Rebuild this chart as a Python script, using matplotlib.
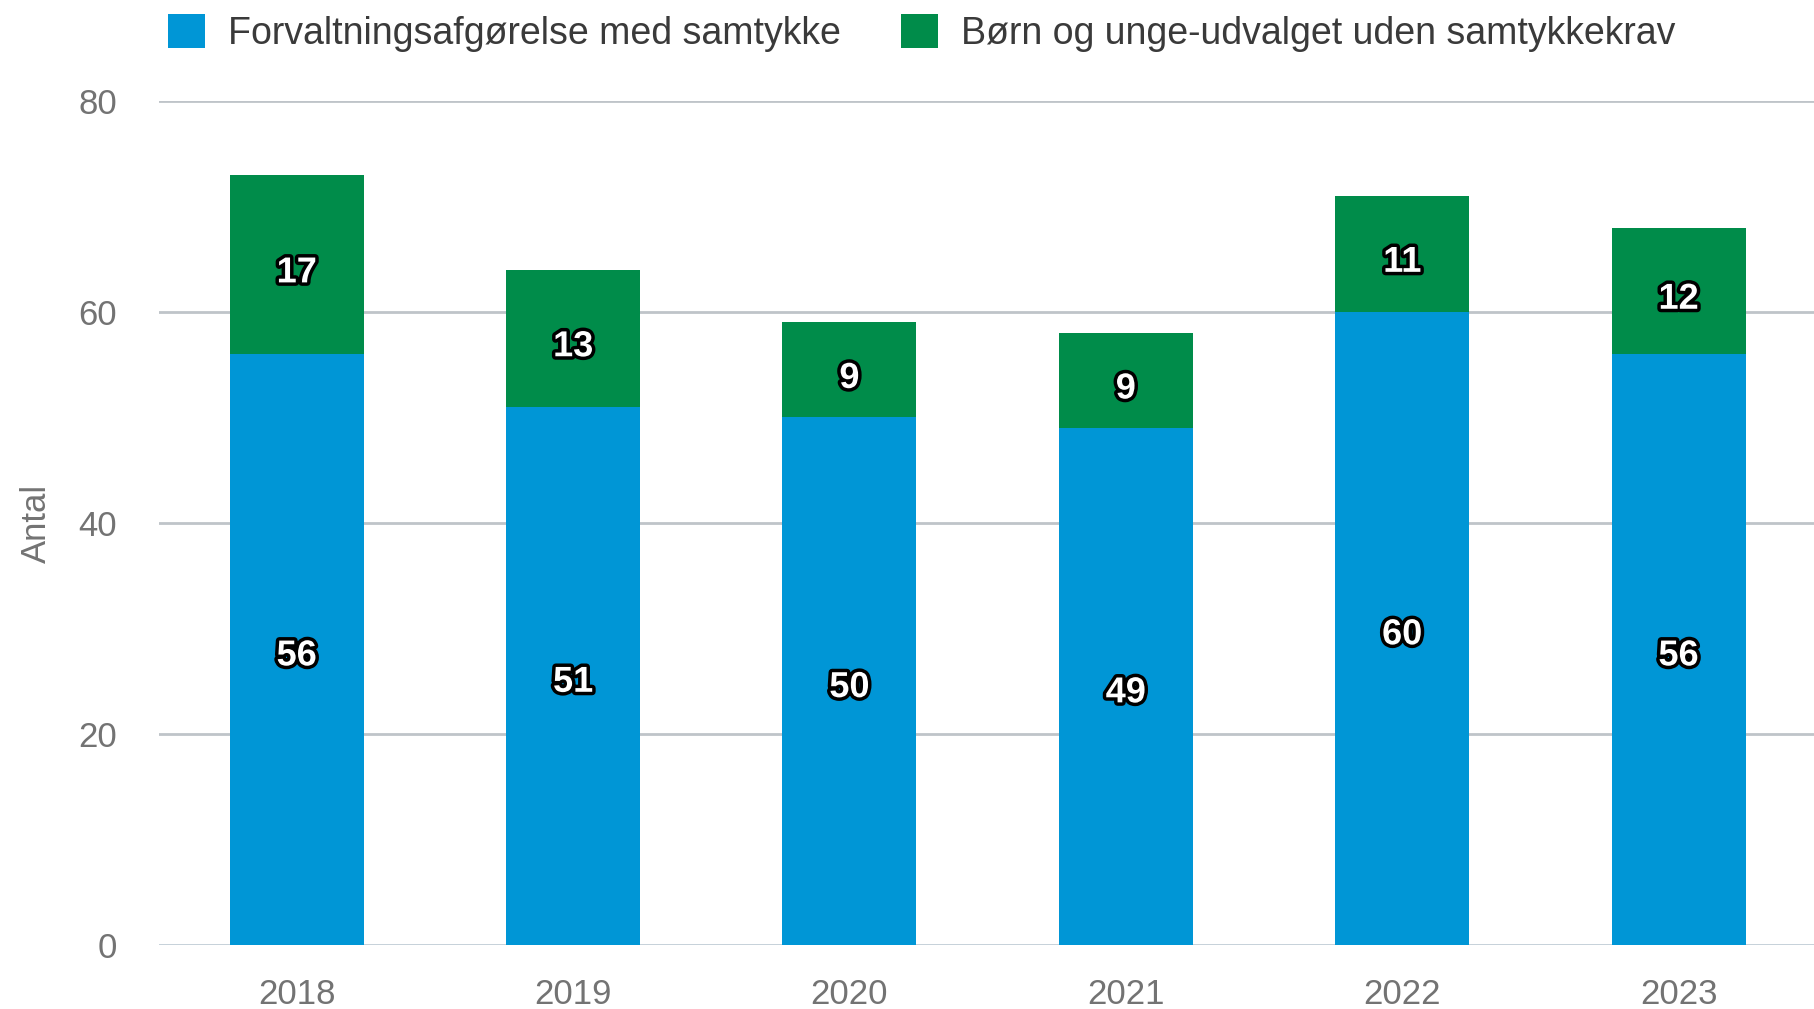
import matplotlib
matplotlib.use('Agg')
import matplotlib.pyplot as plt
import matplotlib.patheffects as pe
from matplotlib.patches import Patch
import numpy as np

plt.rcParams['font.family'] = ['Liberation Sans', 'DejaVu Sans']

# data
years = ['2018', '2019', '2020', '2021', '2022', '2023']
med_samtykke = [56, 51, 50, 49, 60, 56]
uden_samtykke = [17, 13, 9, 9, 11, 12]
series_names = ['Forvaltningsafgørelse med samtykke', 'Børn og unge-udvalget uden samtykkekrav']

blue = '#0096d6'
green = '#008c4a'
tick_color = '#737373'
grid_color = '#bfc4c9'

fig = plt.figure(figsize=(18.14, 10.09), dpi=100)
ax = fig.add_axes([0.0874, 0.0634, 0.9126, 0.8366])

x = np.arange(len(years))
w = 0.485
ax.bar(x, med_samtykke, width=w, color=blue, zorder=3)
ax.bar(x, uden_samtykke, width=w, bottom=med_samtykke, color=green, zorder=3)

# værdier i søjlerne
outline = [pe.withStroke(linewidth=5, foreground='black')]
for i in range(len(years)):
    b = med_samtykke[i]
    g = uden_samtykke[i]
    ax.text(x[i], b / 2 - 0.6, str(b), ha='center', va='center', color='white',
            fontsize=26, fontweight='bold', path_effects=outline, zorder=4)
    ax.text(x[i], b + g / 2 - 0.8, str(g), ha='center', va='center', color='white',
            fontsize=26, fontweight='bold', path_effects=outline, zorder=4)

ax.set_xlim(-0.5, 5.49)
ax.set_ylim(0, 80)
ax.set_yticks([0, 20, 40, 60, 80])
ax.set_xticks(x)
ax.set_xticklabels(years)
ax.tick_params(axis='both', length=0, labelsize=25, colors=tick_color)
ax.tick_params(axis='y', pad=30)
ax.tick_params(axis='x', pad=24)
ax.yaxis.grid(True, color=grid_color, linewidth=2, zorder=0)
for s in ax.spines.values():
    s.set_visible(False)
ax.axhline(0, color='#c8d3dc', linewidth=2, zorder=2)

ax.set_ylabel('Antal', fontsize=25, color=tick_color, labelpad=18)

handles = [Patch(facecolor=blue), Patch(facecolor=green)]
fig.legend(handles, series_names, loc='center left', bbox_to_anchor=(0.074, 0.967),
           ncol=2, frameon=False, fontsize=27, handlelength=1.0, handleheight=1.0,
           handletextpad=0.6, columnspacing=1.6, labelcolor='#3a3a3a')

plt.savefig('out.png', dpi=100)
plt.close()
